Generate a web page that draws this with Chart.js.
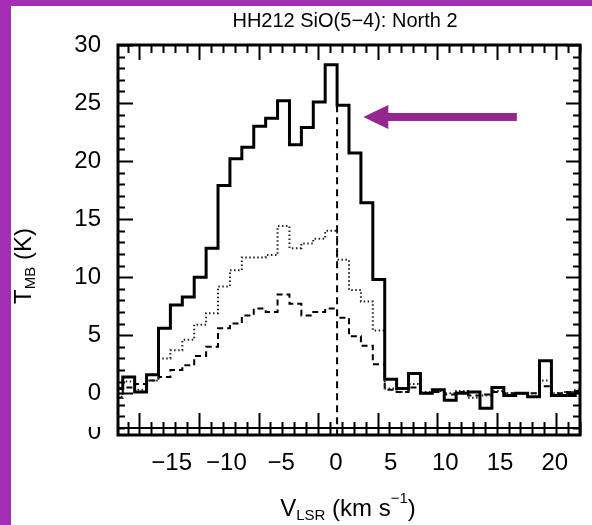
<!DOCTYPE html>
<html>
<head>
<meta charset="utf-8">
<script src="https://cdn.jsdelivr.net/npm/chart.js@4.4.1/dist/chart.umd.min.js"></script>
<style>
  html, body { margin: 0; padding: 0; background: #fff; }
  #wrap { position: relative; width: 592px; height: 525px; }
</style>
</head>
<body>
<div id="wrap"><canvas id="spec" width="592" height="525"></canvas></div>
<script>
/* HH212 SiO(5-4) spectrum, North 2 position */

// channel centres (km/s)
const velocity = [-16.9, -15.9, -14.9, -13.9, -12.9, -11.9, -10.9, -9.9, -8.9, -7.9,
  -6.9, -5.9, -4.9, -3.9, -2.9, -1.9, -0.9, 0.1, 1.1, 2.1,
  3.1, 4.1, 5.1, 6.1, 7.1, 8.1, 9.1, 10.1, 11.1, 12.1,
  13.1, 14.1, 15.1, 16.1, 17.1, 18.1, 19.1, 20.1, 21.1, 22.1];

// T_MB (K) — solid histogram
const solidK = [0.4, 1.4, 0.1, 1.6, 5.6, 7.6, 8.3, 10.0, 12.5, 17.9,
  20.2, 21.2, 23.0, 23.7, 25.2, 21.4, 22.9, 25.1, 28.3, 24.8,
  20.7, 16.4, 9.8, 1.2, 0.4, 1.7, 0.0, 0.3, -0.6, 0.0,
  0.1, -1.3, 0.5, -0.2, 0.0, -0.3, 2.8, -0.2, -0.2, 0.1];

// dotted histogram
const dottedK = [-0.3, 1.0, 0.3, 1.1, 3.0, 3.7, 4.6, 5.9, 6.9, 9.2,
  10.6, 11.7, 11.7, 11.9, 14.4, 12.5, 12.9, 13.3, 14.0, 11.5,
  8.9, 7.9, 5.4, 0.4, 0.1, 0.8, 0.1, 0.2, 0.0, 0.2,
  -0.4, -0.2, 0.2, 0.0, 0.0, 0.0, 1.1, 0.0, 0.1, 0.3];

// dashed histogram
const dashedK = [-0.4, 0.5, 0.8, 1.1, 1.4, 2.0, 2.4, 3.2, 4.0, 5.6,
  6.0, 6.7, 7.3, 7.0, 8.5, 7.7, 6.7, 7.0, 7.3, 6.5,
  4.9, 4.1, 2.5, 0.3, 0.1, 0.5, 0.0, 0.1, -0.1, 0.1,
  -0.2, -0.1, 0.1, 0.0, 0.0, 0.0, 0.6, 0.0, 0.1, 0.2];

// systemic velocity marker
const vSys = 1.6;
const vSysRange = [24.8, -3.6];

const xTickLabels = [-15, -10, -5, 0, 5, 10, 15, 20];
const yTickLabels = [0, 5, 10, 15, 20, 25, 30];

const FONT = "'Liberation Sans', Arial, sans-serif";
const PURPLE = '#93278f';

function toPoints(ys) {
  return velocity.map((v, i) => ({ x: v, y: ys[i] }));
}

/* ── frame, ticks, labels, arrow ── */
const frameAxes = {
  id: 'frameAxes',
  beforeDraw(chart) {
    const { ctx, width, height } = chart;
    ctx.save();
    ctx.fillStyle = '#fff';
    ctx.fillRect(0, 0, width, height);
    ctx.restore();
  },
  afterDatasetsDraw(chart) {
    const { ctx, chartArea: a, scales: { x, y, xl } } = chart;
    ctx.save();
    ctx.strokeStyle = '#000';
    ctx.lineWidth = 2;
    ctx.beginPath();
    // x ticks (top & bottom)
    for (let v = Math.ceil(x.min); v <= x.max; v++) {
      const px = Math.round(x.getPixelForValue(v)) + 0.5;
      const major = v % 5 === 0;
      ctx.moveTo(px, a.top); ctx.lineTo(px, a.top + (major ? 15 : 8));
      ctx.moveTo(px, a.bottom); ctx.lineTo(px, a.bottom - (major ? 22 : 13));
    }
    // y ticks (left & right)
    for (let v = Math.ceil(y.min); v <= y.max; v++) {
      const py = Math.round(y.getPixelForValue(v)) + 0.5;
      const major = v % 5 === 0;
      ctx.moveTo(a.left, py); ctx.lineTo(a.left + (major ? 15 : 7), py);
      ctx.moveTo(a.right, py); ctx.lineTo(a.right - (major ? 14 : 7), py);
    }
    ctx.stroke();
    // second baseline through the bottom ticks
    const yb = y.getPixelForValue(-3.0);
    ctx.beginPath();
    ctx.moveTo(a.left, yb); ctx.lineTo(a.right, yb);
    ctx.stroke();
    // frame
    ctx.lineWidth = 3;
    ctx.strokeRect(a.left, a.top, a.right - a.left, a.bottom - a.top);

    // tick labels
    ctx.fillStyle = '#000';
    ctx.font = `24px ${FONT}`;
    ctx.textAlign = 'right';
    ctx.textBaseline = 'middle';
    yTickLabels.forEach(t => ctx.fillText(String(t), 101, y.getPixelForValue(t)));
    // clipped "0" left over at the bottom
    ctx.save();
    ctx.beginPath();
    ctx.rect(60, y.getPixelForValue(-2.9), 60, 40);
    ctx.clip();
    ctx.fillText('0', 101, y.getPixelForValue(-3.4));
    ctx.restore();

    ctx.textAlign = 'center';
    xTickLabels.forEach(t => {
      const s = t < 0 ? '\u2212' + Math.abs(t) : String(t);
      ctx.fillText(s, xl.getPixelForValue(t), 463);
    });

    // title
    ctx.font = `20px ${FONT}`;
    ctx.fillText('HH212 SiO(5\u22124): North 2', 345, 21);

    // x title: V_LSR (km s^-1)
    const big = `24px ${FONT}`, small = `15px ${FONT}`;
    const parts = [
      ['V', big, 0], ['LSR', small, 7], [' (km s', big, 0], ['\u22121', small, -10], [')', big, 0]
    ];
    ctx.textAlign = 'left';
    let w = 0;
    parts.forEach(p => { ctx.font = p[1]; w += ctx.measureText(p[0]).width; });
    let cx = 348 - w / 2;
    parts.forEach(p => {
      ctx.font = p[1];
      ctx.fillText(p[0], cx, 509 + p[2]);
      cx += ctx.measureText(p[0]).width;
    });

    // y title: T_MB (K), rotated
    ctx.save();
    ctx.translate(24, 266);
    ctx.rotate(-Math.PI / 2);
    const yparts = [['T', big, 0], ['MB', small, 7], [' (K)', big, 0]];
    w = 0;
    yparts.forEach(p => { ctx.font = p[1]; w += ctx.measureText(p[0]).width; });
    cx = -w / 2;
    yparts.forEach(p => {
      ctx.font = p[1];
      ctx.fillText(p[0], cx, p[2]);
      cx += ctx.measureText(p[0]).width;
    });
    ctx.restore();

    // purple arrow pointing at the red wing
    const tipX = x.getPixelForValue(3.8), tailX = x.getPixelForValue(16.7);
    const ay = y.getPixelForValue(23.8);
    ctx.fillStyle = PURPLE;
    ctx.fillRect(tipX + 22, ay - 4, tailX - tipX - 22, 8);
    ctx.beginPath();
    ctx.moveTo(tipX, ay);
    ctx.lineTo(tipX + 25, ay - 12);
    ctx.lineTo(tipX + 25, ay + 12);
    ctx.closePath();
    ctx.fill();

    // purple page frame
    ctx.fillStyle = '#a22fb3';
    ctx.fillRect(0, 0, chart.width, 6);
    ctx.fillRect(0, 0, 11, chart.height);
    ctx.restore();
  }
};

const common = { pointRadius: 0, fill: false, stepped: 'middle', borderColor: '#000' };

new Chart(document.getElementById('spec'), {
  type: 'line',
  data: {
    datasets: [
      { ...common, label: 'solid', data: toPoints(solidK), borderWidth: 3 },
      { ...common, label: 'dotted', data: toPoints(dottedK), borderWidth: 2, borderDash: [1.5, 2.5], borderColor: '#222' },
      { ...common, label: 'dashed', data: toPoints(dashedK), borderWidth: 2, borderDash: [6, 4] },
      { label: 'vsys', data: vSysRange.map(t => ({ x: vSys, y: t })), borderColor: '#000',
        borderWidth: 2, borderDash: [7, 5], pointRadius: 0, fill: false }
    ]
  },
  options: {
    responsive: false,
    animation: false,
    layout: { padding: { left: 118, top: 45, right: 12, bottom: 90 } },
    plugins: { legend: { display: false }, tooltip: { enabled: false }, title: { display: false } },
    scales: {
      x: { type: 'linear', min: -16.8, max: 22.0, display: false },
      xl: { type: 'linear', axis: 'x', min: -19.9, max: 22.3, display: false },
      y: { type: 'linear', min: -3.6, max: 30, display: false }
    }
  },
  plugins: [frameAxes]
});
</script>
</body>
</html>
